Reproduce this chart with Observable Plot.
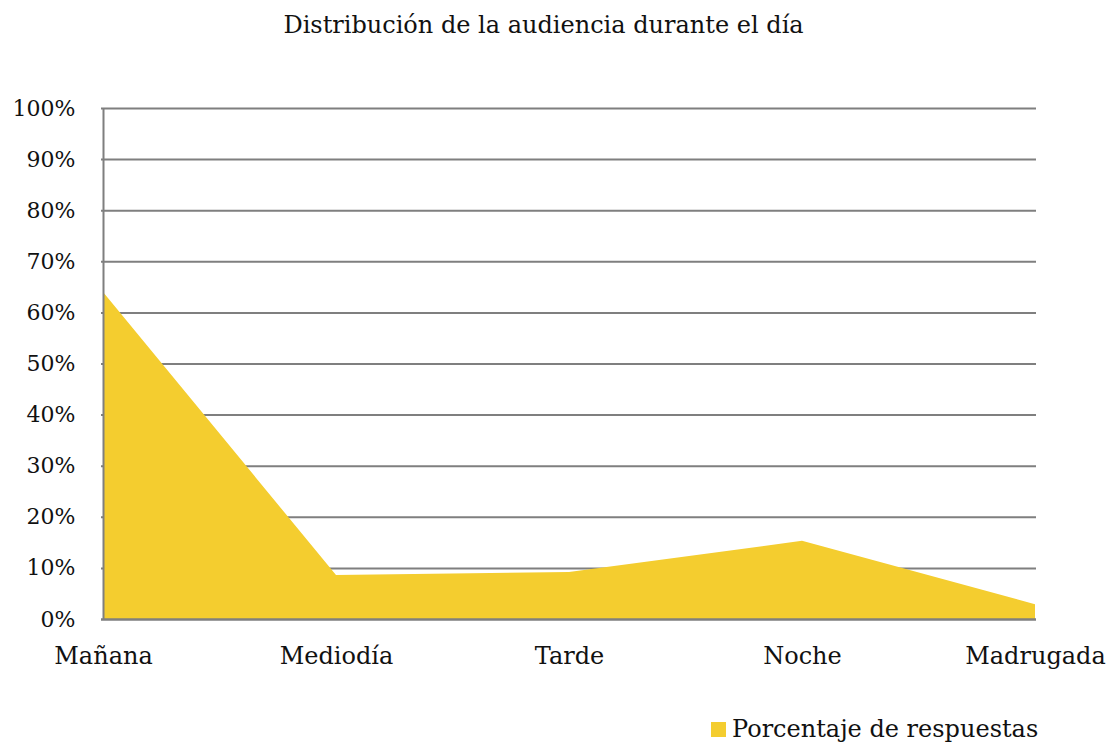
<!DOCTYPE html>
<html>
<head>
<meta charset="utf-8">
<script src="https://cdn.jsdelivr.net/npm/d3@7"></script>
<script src="https://cdn.jsdelivr.net/npm/@observablehq/plot@0.6"></script>
<style>
  body { margin: 0; background: #fff; }
  #wrap { position: relative; width: 1113px; height: 747px; font-family: "DejaVu Serif", serif; color: #111; }
  #title { position: absolute; top: 11px; left: 0; width: 1087px; text-align: center; font-size: 24px; }
  #legend { position: absolute; top: 715px; left: 711px; font-size: 24px; display: flex; align-items: center; }
  #legend .sw { width: 15px; height: 15px; margin-right: 6px; display: inline-block; }
  #chart { position: absolute; top: 0; left: 0; }
</style>
</head>
<body>
<div id="wrap">
  <div id="title">Distribución de la audiencia durante el día</div>
  <div id="chart"></div>
  <div id="legend"><span class="sw"></span><span id="legtext"></span></div>
</div>
<script>
const categories = ["Mañana", "Mediodía", "Tarde", "Noche", "Madrugada"];
const values = [0.64, 0.086, 0.092, 0.153, 0.029];
const yTicks = [0, 0.1, 0.2, 0.3, 0.4, 0.5, 0.6, 0.7, 0.8, 0.9, 1.0];
const seriesName = "Porcentaje de respuestas";
const fillColor = "#F4CD2F";
const gridColor = "#7f7f7f";

const data = categories.map((c, i) => ({cat: c, val: values[i]}));

document.querySelector("#legend .sw").style.background = fillColor;
document.getElementById("legtext").textContent = seriesName;

const chart = Plot.plot({
  width: 1113,
  height: 747,
  marginTop: 108,
  marginBottom: 128,
  marginLeft: 101,
  marginRight: 77,
  style: {fontFamily: "DejaVu Serif, serif", fontSize: "22px", color: "#111", background: "transparent"},
  x: {type: "point", domain: categories, padding: 0, label: null},
  y: {domain: [0, 1], label: null},
  marks: [
    Plot.ruleY(yTicks.slice(1), {stroke: gridColor, strokeWidth: 2}),
    Plot.areaY(data, {x: "cat", y: "val", fill: fillColor, curve: "linear"}),
    Plot.ruleY([0], {stroke: gridColor, strokeWidth: 2.5}),
    Plot.ruleX([categories[0]], {y1: 0, y2: 1, stroke: gridColor, strokeWidth: 2}),
    Plot.axisY({ticks: yTicks, tickFormat: d => Math.round(d * 100) + "%", tickSize: 0, tickPadding: 26, label: null, fill: "#111", fontSize: 22}),
    Plot.axisX({tickSize: 0, tickPadding: 27, label: null, fill: "#111", fontSize: 24})
  ]
});
document.getElementById("chart").appendChild(chart);
</script>
</body>
</html>
